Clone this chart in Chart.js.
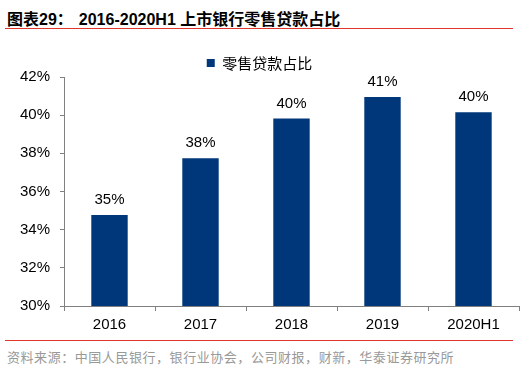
<!DOCTYPE html>
<html>
<head>
<meta charset="utf-8">
<script src="https://cdn.jsdelivr.net/npm/chart.js@4/dist/chart.umd.min.js"></script>
<style>
  html, body { margin: 0; padding: 0; background: #fff; }
  body { width: 522px; height: 377px; position: relative; overflow: hidden;
         font-family: "Liberation Sans", Arial, "Noto Sans CJK SC", sans-serif; }
  #title { position: absolute; left: 7px; top: 6px; font-size: 16px; font-weight: bold; color: #000; white-space: nowrap; }
  #title .gap { display: inline-block; width: 6px; }
  .rule { position: absolute; left: 5px; width: 508px; height: 1px; background: #e0352b; }
  #source { position: absolute; left: 7px; top: 347px; font-size: 13px; color: #999; letter-spacing: 0.55px;
            font-family: "Noto Sans CJK SC", sans-serif; white-space: nowrap; }
  #wrap { position: absolute; left: 0; top: 35px; width: 522px; height: 300px; }
</style>
</head>
<body>
<div id="title">图表29：<span class="gap"></span>2016-2020H1 上市银行零售贷款占比</div>
<div class="rule" style="top:28px"></div>
<div id="wrap"><canvas id="chart"></canvas></div>
<div class="rule" style="top:340px"></div>
<div id="source">资料来源：中国人民银行，银行业协会，公司财报，财新，华泰证券研究所</div>
<script>
// Data
const categories = ['2016', '2017', '2018', '2019', '2020H1'];
const retailShare = [34.77, 37.74, 39.82, 40.95, 40.15];
const seriesName = '零售贷款占比';

const FONT = '"Liberation Sans", Arial, sans-serif';
const AXIS_GREY = '#808080';

// Draw the value labels above each bar
const barLabels = {
    id: 'barLabels',
    afterDatasetsDraw(chart) {
        const ctx = chart.ctx;
        const meta = chart.getDatasetMeta(0);
        ctx.save();
        ctx.font = '15px ' + FONT;
        ctx.fillStyle = '#000';
        ctx.textAlign = 'center';
        ctx.textBaseline = 'alphabetic';
        meta.data.forEach((bar, i) => {
            const v = chart.data.datasets[0].data[i];
            ctx.fillText(Math.round(v) + '%', bar.x, bar.y - 11);
        });
        ctx.restore();
    }
};

// Tighten the gap between the legend and the plot (legend adds 10px by default)
const legendGap = {
    id: 'legendGap',
    beforeInit(chart) {
        const originalFit = chart.legend.fit;
        chart.legend.fit = function fit() {
            originalFit.bind(chart.legend)();
            this.height -= 3.5;
        };
    }
};

const canvas = document.getElementById('chart');
new Chart(canvas.getContext('2d'), {
    type: 'bar',
    data: {
        labels: categories,
        datasets: [{
            label: seriesName,
            data: retailShare,
            backgroundColor: '#00377a',
            borderWidth: 0,
            barPercentage: 0.4,
            categoryPercentage: 1
        }]
    },
    options: {
        responsive: true,
        maintainAspectRatio: false,
        animation: false,
        layout: { padding: { top: 15.5, right: 3, left: 0, bottom: 0 } },
        plugins: {
            legend: {
                display: true,
                position: 'top',
                labels: {
                    boxWidth: 8,
                    boxHeight: 8,
                    padding: 5,
                    color: '#000',
                    font: { size: 15, family: '"Noto Sans CJK SC", sans-serif' }
                }
            },
            tooltip: { enabled: false }
        },
        scales: {
            x: {
                grid: {
                    display: true,
                    drawOnChartArea: false,
                    offset: true,
                    tickLength: 5,
                    color: AXIS_GREY
                },
                border: { color: AXIS_GREY },
                ticks: { color: '#000', padding: 5, font: { size: 15, family: FONT } },
                afterFit: (s) => { s.height = 29; }
            },
            y: {
                min: 30,
                max: 42,
                grid: {
                    display: true,
                    drawOnChartArea: false,
                    tickLength: 4,
                    color: AXIS_GREY
                },
                border: { color: AXIS_GREY },
                ticks: {
                    stepSize: 2,
                    color: '#000',
                    padding: 10,
                    font: { size: 15, family: FONT },
                    callback: (v) => v + '%'
                },
                afterFit: (s) => { s.width = 64; }
            }
        }
    },
    plugins: [barLabels, legendGap]
});
</script>
</body>
</html>
